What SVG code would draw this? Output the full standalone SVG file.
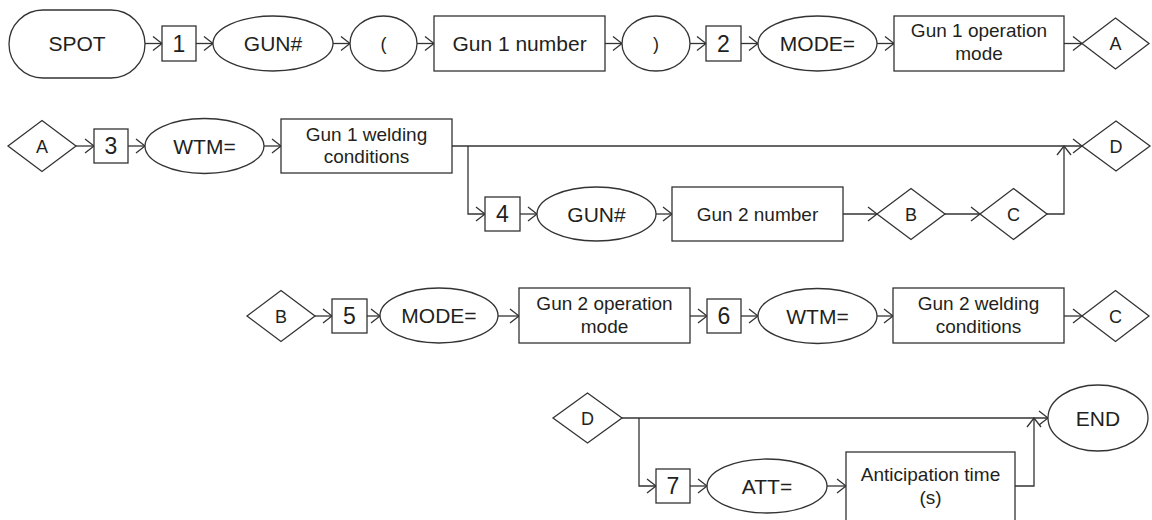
<svg xmlns="http://www.w3.org/2000/svg" width="1152" height="520" viewBox="0 0 1152 520">
<defs>
<style>
.s{fill:#fff;stroke:#333;stroke-width:1.3}
.c{fill:none;stroke:#333;stroke-width:1.3}
.a{marker-end:url(#arr)}
text{font-family:"Liberation Sans",Arial,sans-serif;fill:#231f20;text-anchor:middle}
.t21{font-size:21px}
.t19{font-size:19px}
.t23{font-size:23px}
.t18{font-size:18px}
</style>
<marker id="arr" viewBox="-11 -8 12 16" refX="0" refY="0" markerWidth="12" markerHeight="16" markerUnits="userSpaceOnUse" orient="auto">
<path d="M-9,-7 L0,0 L-9,7" fill="none" stroke="#333" stroke-width="1.3"/>
</marker>
</defs>
<rect width="1152" height="520" fill="#fff"/>
<g id="connectors">
<path class="c a" d="M145,43.5 H162"/>
<path class="c a" d="M196,43.5 H213"/>
<path class="c a" d="M333,43.5 H350"/>
<path class="c a" d="M417,43.5 H434"/>
<path class="c a" d="M605,43.5 H622"/>
<path class="c a" d="M690,43.5 H706"/>
<path class="c a" d="M741,43.5 H758"/>
<path class="c a" d="M877,43.5 H894"/>
<path class="c a" d="M1064,43.5 H1082"/>
<path class="c a" d="M76,146 H94"/>
<path class="c a" d="M128,146 H145"/>
<path class="c a" d="M264,146 H281"/>
<path class="c a" d="M452,146 H1082"/>
<path class="c a" d="M468,146 V214 H485"/>
<path class="c a" d="M520,214 H537"/>
<path class="c a" d="M656,214 H672"/>
<path class="c a" d="M843,214 H877"/>
<path class="c a" d="M945,214 H980"/>
<path class="c a" d="M1047,214 H1064 V146"/>
<path class="c a" d="M315,316 H332"/>
<path class="c a" d="M367,316 H380"/>
<path class="c a" d="M498,316 H519"/>
<path class="c a" d="M690,316 H707"/>
<path class="c a" d="M741,316 H758"/>
<path class="c a" d="M877,316 H893"/>
<path class="c a" d="M1064,316 H1082"/>
<path class="c a" d="M622,418 H1048"/>
<path class="c a" d="M639,418 V486 H656"/>
<path class="c a" d="M690,486 H707"/>
<path class="c a" d="M827,486 H846"/>
<path class="c a" d="M1015,486 H1034 V418"/>
</g>
<g id="spot"><rect class="s" x="9" y="10" width="136" height="68" rx="34" ry="34"/><text class="t21" x="77" y="51">SPOT</text></g>
<g id="n1"><rect class="s" x="162" y="26" width="34" height="35"/><text class="t23" x="179" y="52">1</text></g>
<g id="gun1"><ellipse class="s" cx="273" cy="43.5" rx="60" ry="27.5"/><text class="t21" x="273" y="51">GUN#</text></g>
<g id="lparen"><ellipse class="s" cx="383.5" cy="43.5" rx="33.5" ry="27.5"/><text class="t18" x="383.5" y="50">(</text></g>
<g id="gun1num"><rect class="s" x="434" y="16" width="171" height="55"/><text class="t21" x="519.5" y="51">Gun 1 number</text></g>
<g id="rparen"><ellipse class="s" cx="656" cy="43.5" rx="34" ry="27.5"/><text class="t18" x="656" y="50">)</text></g>
<g id="n2"><rect class="s" x="706" y="26" width="35" height="35"/><text class="t23" x="723.5" y="52">2</text></g>
<g id="mode1"><ellipse class="s" cx="817.5" cy="43.5" rx="59.5" ry="27.5"/><text class="t21" x="817.5" y="51">MODE=</text></g>
<g id="gun1op"><rect class="s" x="894" y="16" width="170" height="55"/><text class="t19" x="979" y="37">Gun 1 operation</text><text class="t19" x="979" y="60">mode</text></g>
<g id="a1"><polygon class="s" points="1082,43.5 1115.5,18 1149,43.5 1115.5,69"/><text class="t18" x="1115.5" y="50">A</text></g>
<g id="a2"><polygon class="s" points="8,146 42,120.5 76,146 42,171.5"/><text class="t18" x="42" y="152.5">A</text></g>
<g id="n3"><rect class="s" x="94" y="129" width="34" height="34"/><text class="t23" x="111" y="154">3</text></g>
<g id="wtm1"><ellipse class="s" cx="204.5" cy="146" rx="59.5" ry="27.5"/><text class="t21" x="204.5" y="153.5">WTM=</text></g>
<g id="gun1weld"><rect class="s" x="281" y="119" width="171" height="54"/><text class="t19" x="366.5" y="141">Gun 1 welding</text><text class="t19" x="366.5" y="163">conditions</text></g>
<g id="d1"><polygon class="s" points="1082,146 1116,121 1150,146 1116,171"/><text class="t18" x="1116" y="152.5">D</text></g>
<g id="n4"><rect class="s" x="485" y="197" width="35" height="34"/><text class="t23" x="502.5" y="222">4</text></g>
<g id="gun2"><ellipse class="s" cx="596.5" cy="214" rx="59.5" ry="27"/><text class="t21" x="596.5" y="221.5">GUN#</text></g>
<g id="gun2num"><rect class="s" x="672" y="187" width="171" height="54"/><text class="t19" x="757.5" y="221">Gun 2 number</text></g>
<g id="b1"><polygon class="s" points="877,214 911,188.5 945,214 911,239.5"/><text class="t18" x="911" y="220.5">B</text></g>
<g id="c1"><polygon class="s" points="980,214 1013.5,188.5 1047,214 1013.5,239.5"/><text class="t18" x="1013.5" y="220.5">C</text></g>
<g id="b2"><polygon class="s" points="247,316 281,290.5 315,316 281,341.5"/><text class="t18" x="281" y="322.5">B</text></g>
<g id="n5"><rect class="s" x="332" y="299" width="35" height="34"/><text class="t23" x="349.5" y="324">5</text></g>
<g id="mode2"><ellipse class="s" cx="439" cy="315.5" rx="59" ry="27.5"/><text class="t21" x="439" y="323">MODE=</text></g>
<g id="gun2op"><rect class="s" x="519" y="288" width="171" height="55"/><text class="t19" x="604.5" y="310">Gun 2 operation</text><text class="t19" x="604.5" y="333">mode</text></g>
<g id="n6"><rect class="s" x="707" y="299" width="34" height="34"/><text class="t23" x="724" y="324">6</text></g>
<g id="wtm2"><ellipse class="s" cx="817.5" cy="316" rx="59.5" ry="27.5"/><text class="t21" x="817.5" y="323.5">WTM=</text></g>
<g id="gun2weld"><rect class="s" x="893" y="288" width="171" height="55"/><text class="t19" x="978.5" y="310">Gun 2 welding</text><text class="t19" x="978.5" y="333">conditions</text></g>
<g id="c2"><polygon class="s" points="1082,316 1115.5,290.5 1149,316 1115.5,341.5"/><text class="t18" x="1115.5" y="322.5">C</text></g>
<g id="d2"><polygon class="s" points="553,418 587.5,393 622,418 587.5,443"/><text class="t18" x="587.5" y="424.5">D</text></g>
<g id="end"><ellipse class="s" cx="1098" cy="418" rx="50" ry="33"/><text class="t21" x="1098" y="425.5">END</text></g>
<g id="n7"><rect class="s" x="656" y="469" width="34" height="34"/><text class="t23" x="673" y="494">7</text></g>
<g id="att"><ellipse class="s" cx="767" cy="486" rx="60" ry="27"/><text class="t21" x="767" y="493.5">ATT=</text></g>
<g id="antic"><rect class="s" x="846" y="452" width="169" height="72"/><text class="t19" x="930.5" y="481">Anticipation time</text><text class="t19" x="930.5" y="504">(s)</text></g>
</svg>
